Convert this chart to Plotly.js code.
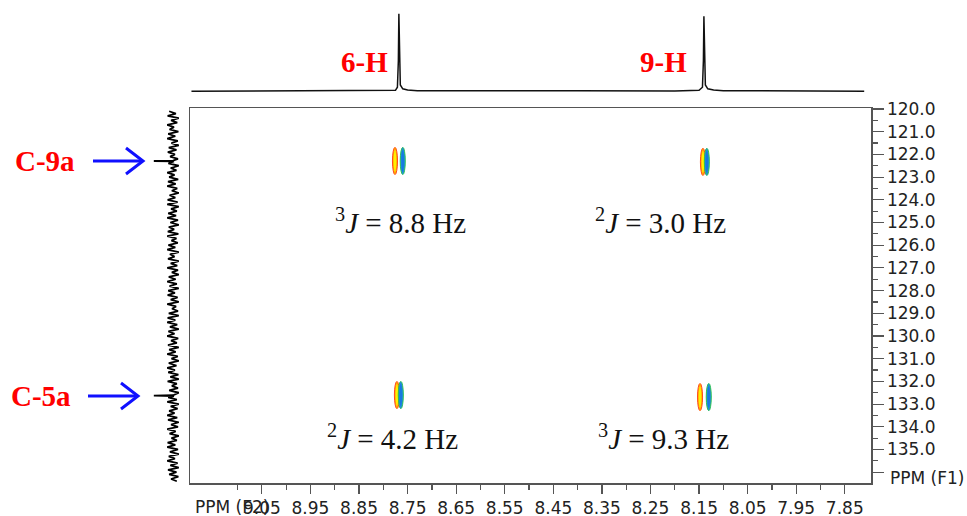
<!DOCTYPE html>
<html>
<head>
<meta charset="utf-8">
<script src="https://cdn.plot.ly/plotly-3.0.1.min.js"></script>
<style>html,body{margin:0;padding:0;background:#fff;}#chart{width:967px;height:516px;}</style>
</head>
<body>
<div id="chart"></div>
<script>
// ---------- DATA ----------
// 1H projection (F2, ppm)
const hPpm = [9.195, 9.00, 8.85, 8.79, 8.775, 8.771, 8.769, 8.768, 8.767, 8.765, 8.760, 8.750, 8.730, 8.60, 8.40, 8.20, 8.150, 8.143, 8.141, 8.140, 8.139, 8.137, 8.132, 8.120, 8.100, 7.95, 7.81];
const hInt = [0.000, 0.003, 0.000, 0.002, 0.010, 0.050, 0.400, 1.000, 0.400, 0.080, 0.030, 0.015, 0.006, 0.002, 0.004, 0.003, 0.010, 0.050, 0.400, 0.970, 0.400, 0.080, 0.030, 0.014, 0.006, 0.002, 0.000];

// 13C projection (F1, ppm)
const cPpm = [
  120.1,120.2,120.3,120.4,120.5,120.6,120.7,120.8,120.9,121.0,121.1,121.2,121.3,121.4,121.5,121.6,121.7,121.8,121.9,122.0,122.1,122.2,
  122.27,122.29,122.31,
  122.4,122.5,122.6,122.7,122.8,122.9,
  123.0,123.1,123.2,123.3,123.4,123.5,123.6,123.7,123.8,123.9,
  124.0,124.1,124.2,124.3,124.4,124.5,124.6,124.7,124.8,124.9,
  125.0,125.1,125.2,125.3,125.4,125.5,125.6,125.7,125.8,125.9,
  126.0,126.1,126.2,126.3,126.4,126.5,126.6,126.7,126.8,126.9,
  127.0,127.1,127.2,127.3,127.4,127.5,127.6,127.7,127.8,127.9,
  128.0,128.1,128.2,128.3,128.4,128.5,128.6,128.7,128.8,128.9,
  129.0,129.1,129.2,129.3,129.4,129.5,129.6,129.7,129.8,129.9,
  130.0,130.1,130.2,130.3,130.4,130.5,130.6,130.7,130.8,130.9,
  131.0,131.1,131.2,131.3,131.4,131.5,131.6,131.7,131.8,131.9,
  132.0,132.1,132.2,132.3,132.4,132.5,
  132.61,132.63,132.65,
  132.7,132.8,132.9,
  133.0,133.1,133.2,133.3,133.4,133.5,133.6,133.7,133.8,133.9,
  134.0,134.1,134.2,134.3,134.4,134.5,134.6,134.7,134.8,134.9,
  135.0,135.1,135.2,135.3,135.4,135.5,135.6,135.7,135.8,135.9,
  136.0,136.1,136.2,136.3,136.4];
const cInt = [
  0.2,-0.15,0.28,-0.3,0.1,-0.22,0.3,-0.05,0.18,-0.28,0.25,-0.12,0.3,-0.25,0.08,-0.3,0.22,-0.18,0.27,-0.1,0.15,-0.26,
  0.0,1.0,-0.05,
  0.24,-0.3,0.12,-0.18,0.3,-0.08,0.2,-0.27,0.26,-0.14,
  0.3,-0.22,0.06,-0.3,0.18,-0.12,0.28,-0.24,0.3,-0.3,
  0.1,-0.2,0.25,-0.16,0.3,-0.26,0.14,-0.3,0.22,-0.06,
  0.27,-0.28,0.3,-0.18,0.08,-0.25,0.24,-0.12,0.3,-0.3,
  0.16,-0.08,0.26,-0.3,0.12,-0.22,0.3,-0.26,0.06,-0.3,
  0.22,-0.14,0.3,-0.2,0.18,-0.3,0.25,-0.1,0.28,-0.24,
  0.12,-0.3,0.3,-0.16,0.05,-0.26,0.22,-0.3,0.28,-0.12,
  0.3,-0.22,0.16,-0.3,0.24,-0.08,0.3,-0.27,0.1,-0.2,
  0.26,-0.3,0.2,-0.14,0.3,-0.25,0.08,-0.3,0.22,-0.18,
  0.3,-0.1,0.25,-0.28,0.14,-0.3,0.28,-0.2,0.06,-0.26,
  0.2,-0.3,
  0.0,1.0,-0.05,
  0.25,-0.2,0.3,-0.3,0.12,-0.24,0.2,-0.08,0.3,-0.22,
  0.26,-0.3,0.1,-0.26,0.3,-0.14,0.18,-0.3,0.08,-0.2,
  0.28,-0.12,0.3,-0.26,0.16,-0.3,0.22,-0.1,0.3,-0.24,
  0.14,-0.3,0.26,-0.18,0.2,-0.28,0.1,-0.2];

// HMBC cross peaks: F2 (1H) and F1 (13C) centres, and lobe type
const crossH = [8.776, 8.760, 8.142, 8.134, 8.772, 8.764, 8.148, 8.130];
const crossC = [122.29, 122.29, 122.33, 122.33, 132.60, 132.60, 132.69, 132.69];
const crossLobe = ['warm', 'cool', 'warm', 'cool', 'warm', 'cool', 'warm', 'cool'];

// Tick labels
const xTickVals = [9.05, 8.95, 8.85, 8.75, 8.65, 8.55, 8.45, 8.35, 8.25, 8.15, 8.05, 7.95, 7.85];
const xTickText = ['9.05', '8.95', '8.85', '8.75', '8.65', '8.55', '8.45', '8.35', '8.25', '8.15', '8.05', '7.95', '7.85'];
const xMinorVals = [9.10, 9.00, 8.90, 8.80, 8.70, 8.60, 8.50, 8.40, 8.30, 8.20, 8.10, 8.00, 7.90];
const yTickVals = [120, 121, 122, 123, 124, 125, 126, 127, 128, 129, 130, 131, 132, 133, 134, 135, 136];
const yTickText = ['120.0', '121.0', '122.0', '123.0', '124.0', '125.0', '126.0', '127.0', '128.0', '129.0', '130.0', '131.0', '132.0', '133.0', '134.0', '135.0', ' '];
const yMinorVals = [120.5, 121.5, 122.5, 123.5, 124.5, 125.5, 126.5, 127.5, 128.5, 129.5, 130.5, 131.5, 132.5, 133.5, 134.5, 135.5];

// Labels
const protonLabels = [{text: '6-H', px: 364, py: 62}, {text: '9-H', px: 663, py: 62}];
const carbonLabels = [{text: 'C-9a', px: 45, py: 161}, {text: 'C-5a', px: 41, py: 396}];
const couplingLabels = [
  {text: '<sup>3</sup><i>J</i> = 8.8 Hz', px: 400, py: 221},
  {text: '<sup>2</sup><i>J</i> = 3.0 Hz', px: 660, py: 221},
  {text: '<sup>2</sup><i>J</i> = 4.2 Hz', px: 392, py: 437},
  {text: '<sup>3</sup><i>J</i> = 9.3 Hz', px: 663, py: 437}
];

// ---------- LAYOUT HELPERS ----------
const W = 967, H = 516;
const fx = p => p / W;
const fy = p => 1 - p / H;
const xRange = [9.198, 7.796];
const yRange = [136.476, 119.956];
const lobeHalfW = 0.0052, lobeHalfH = 0.6;

const traces = [
  {x: hPpm, y: hInt, xaxis: 'x2', yaxis: 'y2', mode: 'lines', line: {color: '#111', width: 1.5}, hoverinfo: 'skip', showlegend: false},
  {x: cInt, y: cPpm, xaxis: 'x3', yaxis: 'y', mode: 'lines', line: {color: '#000', width: 1.8}, hoverinfo: 'skip', showlegend: false}
];

const shapes = [];
crossH.forEach((h, i) => {
  const c = crossC[i];
  const warm = crossLobe[i] === 'warm';
  shapes.push({type: 'circle', xref: 'x', yref: 'y',
    x0: h - lobeHalfW, x1: h + lobeHalfW, y0: c - lobeHalfH, y1: c + lobeHalfH,
    fillcolor: warm ? '#ffb000' : '#1e8ae6', line: {color: warm ? '#ff4a1f' : '#2cc24e', width: 1}});
  shapes.push({type: 'circle', xref: 'x', yref: 'y',
    x0: h - lobeHalfW * 0.5, x1: h + lobeHalfW * 0.5, y0: c - lobeHalfH * 0.8, y1: c + lobeHalfH * 0.8,
    fillcolor: warm ? '#fff000' : '#1878e0', line: {width: 0}});
});
// blue arrows pointing at carbon projection
const arrowSpecs = [{x0: 93, x1: 143, y: 161}, {x0: 88, x1: 138, y: 396}];
arrowSpecs.forEach(a => {
  shapes.push({type: 'line', xref: 'paper', yref: 'paper', x0: fx(a.x0), x1: fx(a.x1 - 1), y0: fy(a.y), y1: fy(a.y), line: {color: '#1010ff', width: 3}});
  shapes.push({type: 'path', xref: 'paper', yref: 'paper',
    path: `M ${fx(a.x1 - 17)} ${fy(a.y - 13)} L ${fx(a.x1)} ${fy(a.y)} L ${fx(a.x1 - 17)} ${fy(a.y + 13)}`,
    line: {color: '#1010ff', width: 3}});
});

const annotations = [];
protonLabels.forEach(l => annotations.push({text: '<b>' + l.text + '</b>', xref: 'paper', yref: 'paper', x: fx(l.px), y: fy(l.py), showarrow: false, xanchor: 'center', yanchor: 'middle', font: {family: 'Liberation Serif', size: 29, color: '#ff0000'}}));
carbonLabels.forEach(l => annotations.push({text: '<b>' + l.text + '</b>', xref: 'paper', yref: 'paper', x: fx(l.px), y: fy(l.py), showarrow: false, xanchor: 'center', yanchor: 'middle', font: {family: 'Liberation Serif', size: 29, color: '#ff0000'}}));
couplingLabels.forEach(l => annotations.push({text: l.text, xref: 'paper', yref: 'paper', x: fx(l.px), y: fy(l.py), showarrow: false, xanchor: 'center', yanchor: 'middle', font: {family: 'Liberation Serif', size: 29, color: '#111'}}));
annotations.push({text: 'PPM (F2)', xref: 'paper', yref: 'paper', x: fx(193), y: fy(507), showarrow: false, xanchor: 'left', yanchor: 'middle', font: {family: 'DejaVu Sans', size: 17, color: '#222'}});
annotations.push({text: 'PPM (F1)', xref: 'paper', yref: 'paper', x: fx(888), y: fy(478), showarrow: false, xanchor: 'left', yanchor: 'middle', font: {family: 'DejaVu Sans', size: 17, color: '#222'}});

const axisFont = {family: 'DejaVu Sans', size: 17, color: '#222'};
const layout = {
  width: W, height: H,
  margin: {l: 0, r: 0, t: 0, b: 0},
  paper_bgcolor: '#fff', plot_bgcolor: '#fff',
  showlegend: false,
  xaxis: {domain: [fx(190), fx(871)], range: xRange, anchor: 'y',
    tickmode: 'array', tickvals: xTickVals, ticktext: xTickText,
    ticks: 'outside', ticklen: 9, tickwidth: 1.2, tickcolor: '#555', tickfont: axisFont,
    minor: {tickmode: 'array', tickvals: xMinorVals, ticks: 'outside', ticklen: 5, tickcolor: '#555', tickwidth: 1.2},
    showgrid: false, zeroline: false, showline: true, mirror: true, linecolor: '#555', linewidth: 1.5},
  yaxis: {domain: [fy(483), fy(108)], range: yRange, anchor: 'x', side: 'right',
    tickmode: 'array', tickvals: yTickVals, ticktext: yTickText,
    ticks: 'outside', ticklen: 11, tickwidth: 1.2, tickcolor: '#555', tickfont: axisFont,
    minor: {tickmode: 'array', tickvals: yMinorVals, ticks: 'outside', ticklen: 5, tickcolor: '#555', tickwidth: 1.2},
    showgrid: false, zeroline: false, showline: true, mirror: true, linecolor: '#555', linewidth: 1.5},
  xaxis2: {domain: [fx(190), fx(871)], range: xRange, anchor: 'y2', visible: false},
  yaxis2: {domain: [fy(95), fy(10)], range: [-0.05, 1.05], anchor: 'x2', visible: false},
  xaxis3: {domain: [fx(150), fx(185)], range: [1.2, -0.626], anchor: 'y', visible: false},
  shapes: shapes,
  annotations: annotations
};

Plotly.newPlot('chart', traces, layout, {staticPlot: true, displayModeBar: false});
</script>
</body>
</html>
